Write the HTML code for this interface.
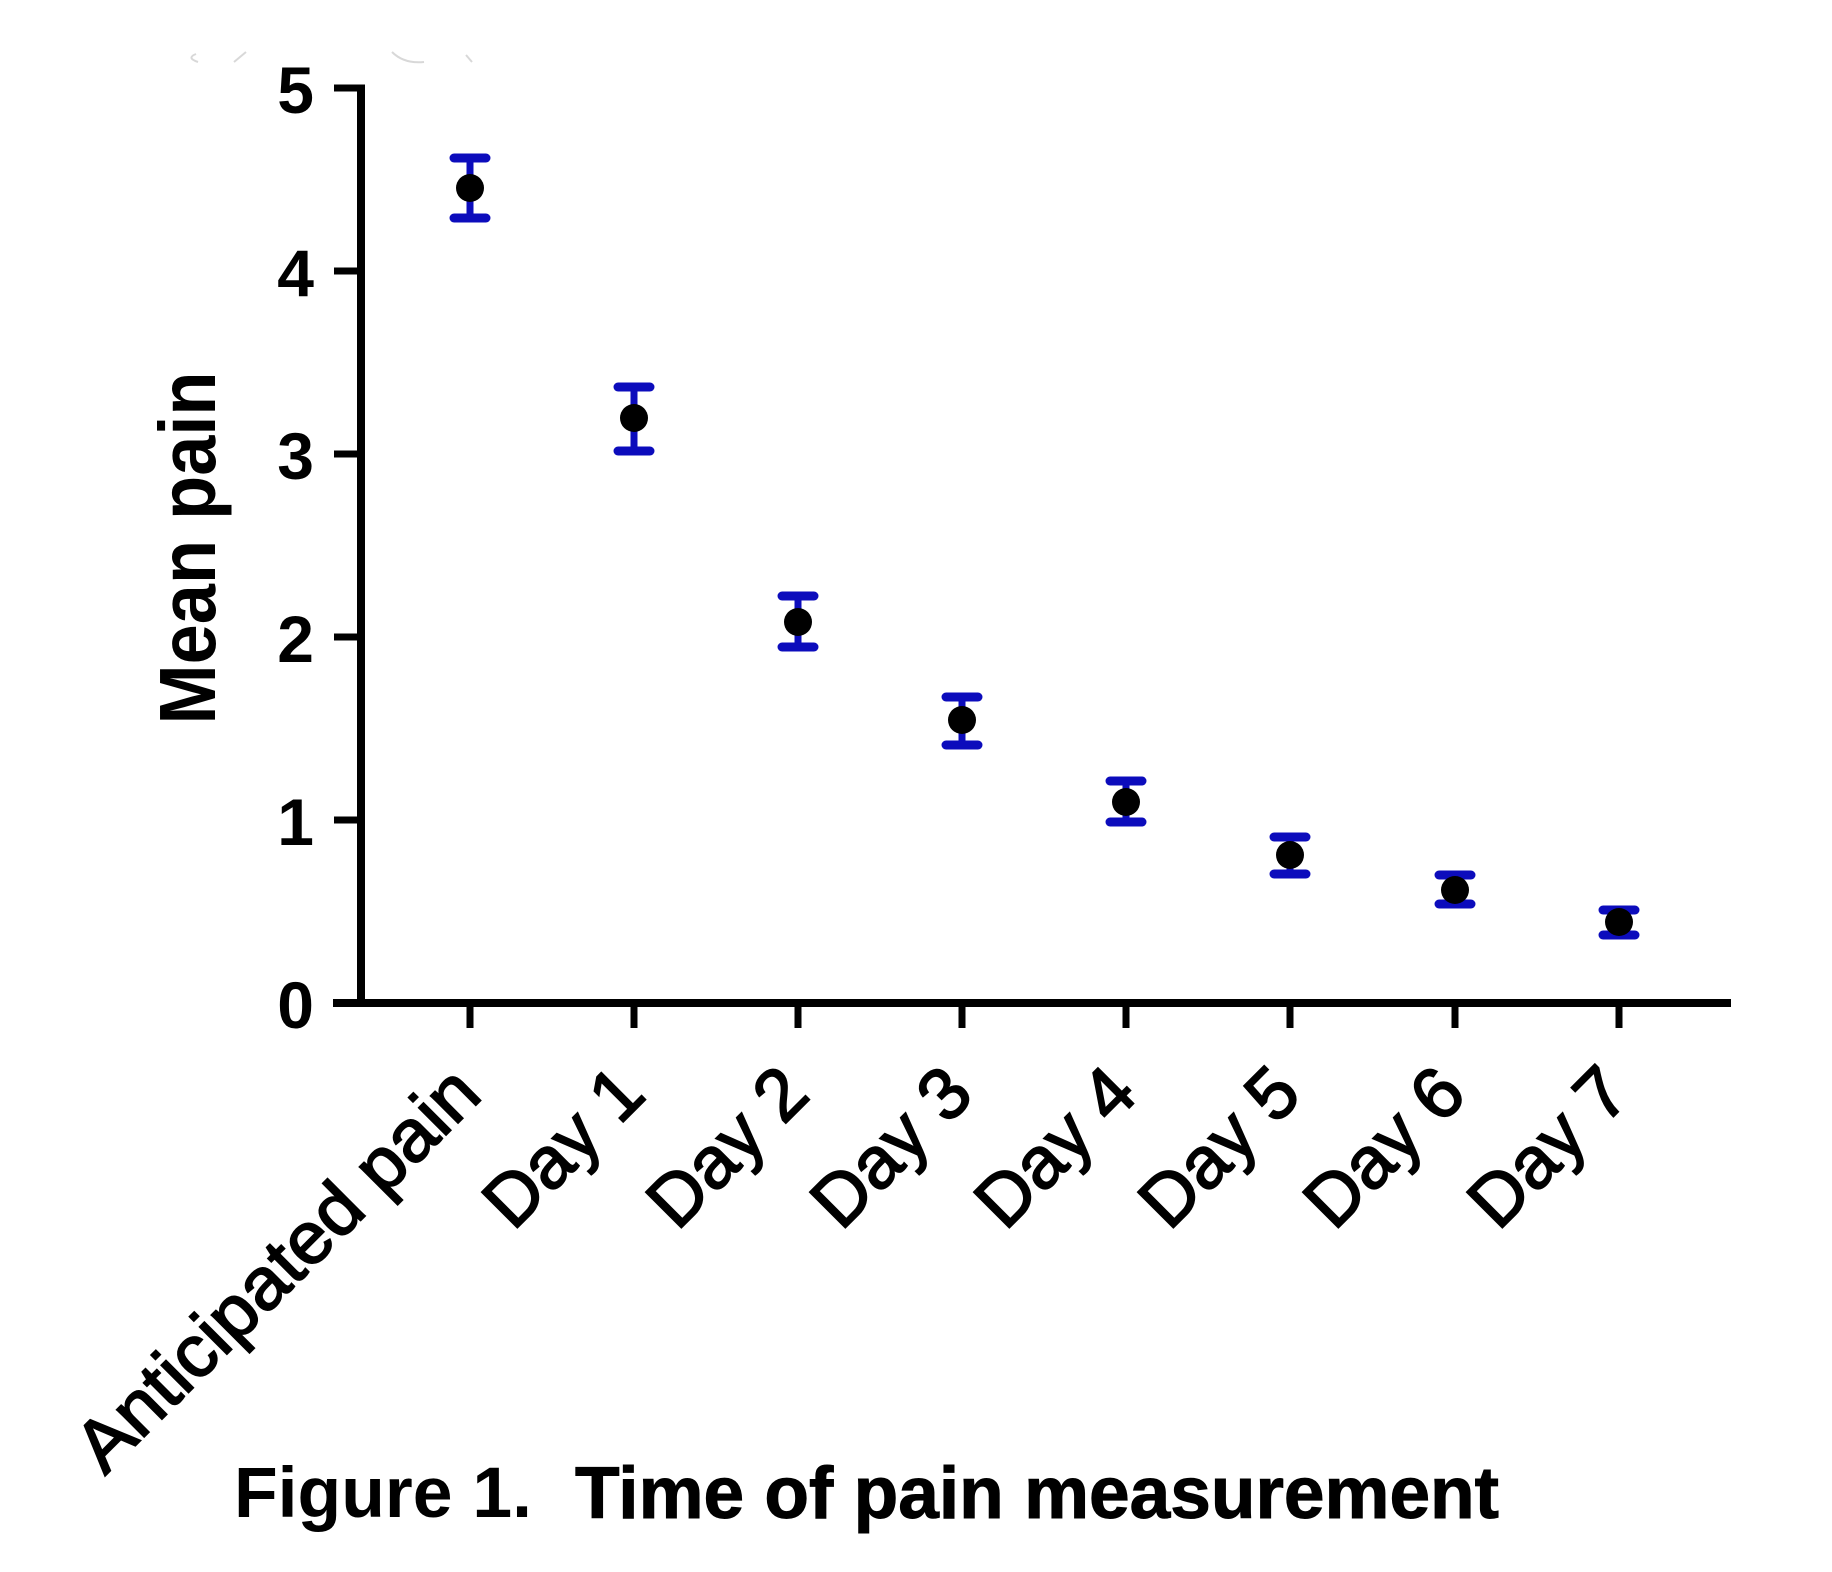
<!DOCTYPE html>
<html>
<head>
<meta charset="utf-8">
<style>
  html, body { margin: 0; padding: 0; background: #ffffff; }
  svg { display: block; }
  text { font-family: "Liberation Sans", Arial, Helvetica, sans-serif; fill: #000; }
</style>
</head>
<body>
<svg width="1832" height="1572" viewBox="0 0 1832 1572" xmlns="http://www.w3.org/2000/svg">
  <rect x="0" y="0" width="1832" height="1572" fill="#ffffff"/>

  <!-- faint artifacts at top -->
  <g stroke="#d8d8d8" stroke-width="2" fill="none">
    <path d="M196 54 Q186 58 198 62"/>
    <path d="M234 62 L246 52"/>
    <path d="M392 52 Q404 64 424 62"/>
    <path d="M466 55 L472 62"/>
  </g>

  <!-- axes -->
  <g stroke="#000" fill="none" stroke-linecap="butt">
    <line x1="361" y1="84.5" x2="361" y2="1006" stroke-width="8"/>
    <line x1="333" y1="1003" x2="1731" y2="1003" stroke-width="8"/>
    <line x1="334" y1="88" x2="361" y2="88" stroke-width="7"/>
    <line x1="334" y1="271" x2="361" y2="271" stroke-width="7"/>
    <line x1="334" y1="454" x2="361" y2="454" stroke-width="7"/>
    <line x1="334" y1="637" x2="361" y2="637" stroke-width="7"/>
    <line x1="334" y1="820" x2="361" y2="820" stroke-width="7"/>
    <line x1="470" y1="1003" x2="470" y2="1028" stroke-width="7"/>
    <line x1="634" y1="1003" x2="634" y2="1028" stroke-width="7"/>
    <line x1="798" y1="1003" x2="798" y2="1028" stroke-width="7"/>
    <line x1="962" y1="1003" x2="962" y2="1028" stroke-width="7"/>
    <line x1="1126" y1="1003" x2="1126" y2="1028" stroke-width="7"/>
    <line x1="1290" y1="1003" x2="1290" y2="1028" stroke-width="7"/>
    <line x1="1455" y1="1003" x2="1455" y2="1028" stroke-width="7"/>
    <line x1="1619" y1="1003" x2="1619" y2="1028" stroke-width="7"/>
  </g>

  <!-- y tick labels -->
  <g font-size="66" font-weight="bold" text-anchor="end">
    <text x="314" y="113">5</text>
    <text x="314" y="296">4</text>
    <text x="314" y="479">3</text>
    <text x="314" y="662">2</text>
    <text x="314" y="845">1</text>
    <text x="314" y="1028">0</text>
  </g>

  <!-- y axis title -->
  <text transform="translate(215,548) rotate(-90)" font-size="80" font-weight="bold" text-anchor="middle" textLength="353" lengthAdjust="spacingAndGlyphs">Mean pain</text>

  <!-- x tick labels -->
  <g font-size="73" text-anchor="end" stroke="#000" stroke-width="1.8">
    <text transform="translate(484,1097) rotate(-45)" textLength="536" lengthAdjust="spacingAndGlyphs">Anticipated pain</text>
    <text transform="translate(648,1097) rotate(-45)">Day 1</text>
    <text transform="translate(812,1097) rotate(-45)">Day 2</text>
    <text transform="translate(976,1097) rotate(-45)">Day 3</text>
    <text transform="translate(1140,1097) rotate(-45)">Day 4</text>
    <text transform="translate(1304,1097) rotate(-45)">Day 5</text>
    <text transform="translate(1469,1097) rotate(-45)">Day 6</text>
    <text transform="translate(1633,1097) rotate(-45)">Day 7</text>
  </g>

  <!-- error bars -->
  <g stroke="#0c0cbc" fill="none" stroke-linecap="butt">
    <g stroke-width="7">
      <line x1="470" y1="158" x2="470" y2="218"/>
      <line x1="634" y1="387" x2="634" y2="451"/>
      <line x1="798" y1="596" x2="798" y2="647"/>
      <line x1="962" y1="697" x2="962" y2="745"/>
      <line x1="1126" y1="781" x2="1126" y2="822"/>
      <line x1="1290" y1="837" x2="1290" y2="874"/>
      <line x1="1455" y1="875" x2="1455" y2="904"/>
      <line x1="1619" y1="910" x2="1619" y2="935"/>
    </g>
    <g stroke-width="9" stroke-linecap="round">
      <line x1="454" y1="158" x2="486" y2="158"/><line x1="454" y1="218" x2="486" y2="218"/>
      <line x1="618" y1="387" x2="650" y2="387"/><line x1="618" y1="451" x2="650" y2="451"/>
      <line x1="782" y1="596" x2="814" y2="596"/><line x1="782" y1="647" x2="814" y2="647"/>
      <line x1="946" y1="697" x2="978" y2="697"/><line x1="946" y1="745" x2="978" y2="745"/>
      <line x1="1110" y1="781" x2="1142" y2="781"/><line x1="1110" y1="822" x2="1142" y2="822"/>
      <line x1="1274" y1="837" x2="1306" y2="837"/><line x1="1274" y1="874" x2="1306" y2="874"/>
      <line x1="1439" y1="875" x2="1471" y2="875"/><line x1="1439" y1="904" x2="1471" y2="904"/>
      <line x1="1603" y1="910" x2="1635" y2="910"/><line x1="1603" y1="935" x2="1635" y2="935"/>
    </g>
  </g>

  <!-- markers -->
  <g fill="#000">
    <circle cx="470" cy="188" r="14"/>
    <circle cx="634" cy="418" r="14"/>
    <circle cx="798" cy="622" r="14"/>
    <circle cx="962" cy="720" r="14"/>
    <circle cx="1126" cy="802" r="14"/>
    <circle cx="1290" cy="855" r="14"/>
    <circle cx="1455" cy="890" r="14"/>
    <circle cx="1619" cy="922" r="14"/>
  </g>

  <!-- caption -->
  <text x="234" y="1517" font-size="71" font-weight="bold" textLength="298" lengthAdjust="spacingAndGlyphs">Figure 1.</text>
  <text x="575" y="1518" font-size="73" font-weight="bold" stroke="#000" stroke-width="1" textLength="924" lengthAdjust="spacingAndGlyphs">Time of pain measurement</text>
</svg>
</body>
</html>
